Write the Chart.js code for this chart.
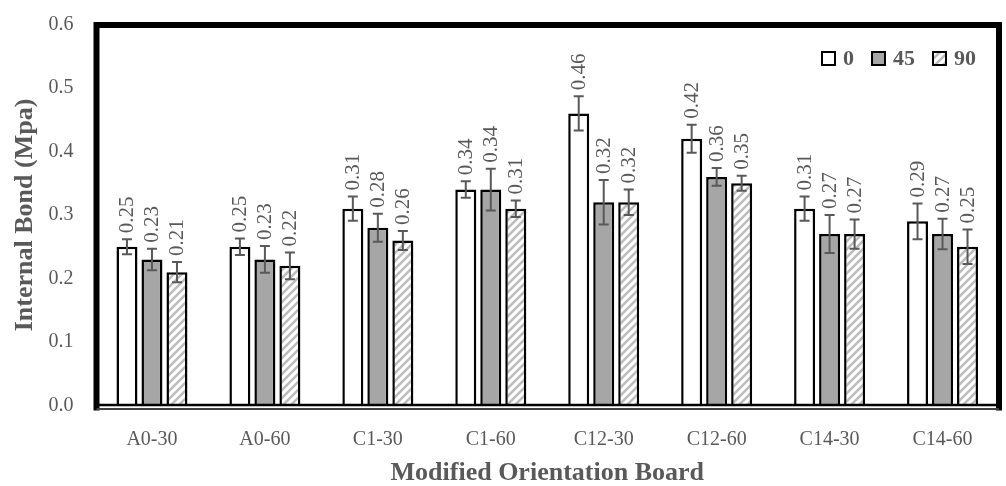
<!DOCTYPE html>
<html>
<head>
<meta charset="utf-8">
<script src="https://cdn.jsdelivr.net/npm/chart.js@4.4.1/dist/chart.umd.min.js"></script>
<style>
  html, body { margin: 0; padding: 0; background: #ffffff; }
  #wrap { width: 1006px; height: 486px; }
</style>
</head>
<body>
<div id="wrap"><canvas id="ib" width="1006" height="486"></canvas></div>
<script>
// Internal bond of modified orientation boards, by strand orientation (0, 45, 90 deg)
const boards = ['A0-30', 'A0-60', 'C1-30', 'C1-60', 'C12-30', 'C12-60', 'C14-30', 'C14-60'];
const orientations = ['0', '45', '90'];

const ib0  = [0.25, 0.25, 0.31, 0.34, 0.46, 0.42, 0.31, 0.29];
const ib45 = [0.23, 0.23, 0.28, 0.34, 0.32, 0.36, 0.27, 0.27];
const ib90 = [0.21, 0.22, 0.26, 0.31, 0.32, 0.35, 0.27, 0.25];

// standard deviations shown as error bars
const sd0  = [0.012, 0.013, 0.019, 0.013, 0.027, 0.022, 0.019, 0.028];
const sd45 = [0.017, 0.021, 0.022, 0.033, 0.035, 0.014, 0.030, 0.024];
const sd90 = [0.016, 0.021, 0.015, 0.013, 0.020, 0.012, 0.023, 0.027];

const yTicks = [0.0, 0.1, 0.2, 0.3, 0.4, 0.5, 0.6];

const TEXT = '#595959';
const SERIF = '"Liberation Serif", "Times New Roman", serif';

function hatch() {
  const c = document.createElement('canvas');
  c.width = 8; c.height = 8;
  const g = c.getContext('2d');
  g.fillStyle = '#ffffff';
  g.fillRect(0, 0, 8, 8);
  g.strokeStyle = '#bdbdbd';
  g.lineWidth = 2.6;
  g.lineCap = 'square';
  g.beginPath();
  g.moveTo(0, 8); g.lineTo(8, 0);
  g.moveTo(-1, 1); g.lineTo(1, -1);
  g.moveTo(7, 9); g.lineTo(9, 7);
  g.stroke();
  return g.createPattern(c, 'repeat');
}

const sdBySeries = [sd0, sd45, sd90];

const errorBarsAndLabels = {
  id: 'errorBarsAndLabels',
  afterDatasetsDraw(chart) {
    const ctx = chart.ctx;
    const y = chart.scales.y;
    chart.data.datasets.forEach((ds, di) => {
      const meta = chart.getDatasetMeta(di);
      const sd = sdBySeries[di];
      meta.data.forEach((bar, i) => {
        const v = ds.data[i];
        const top = y.getPixelForValue(v + sd[i]);
        const bot = y.getPixelForValue(v - sd[i]);
        const x = bar.x;
        ctx.save();
        ctx.strokeStyle = TEXT;
        ctx.lineWidth = 2;
        ctx.beginPath();
        ctx.moveTo(x, top); ctx.lineTo(x, bot);
        ctx.moveTo(x - 5, top); ctx.lineTo(x + 5, top);
        ctx.moveTo(x - 5, bot); ctx.lineTo(x + 5, bot);
        ctx.stroke();
        ctx.translate(x, top - 6);
        ctx.rotate(-Math.PI / 2);
        ctx.fillStyle = TEXT;
        ctx.font = '21px ' + SERIF;
        ctx.textAlign = 'left';
        ctx.textBaseline = 'middle';
        ctx.fillText(v.toFixed(2), 0, 1);
        ctx.restore();
      });
    });
  }
};

const plotFrame = {
  id: 'plotFrame',
  afterDraw(chart) {
    const ctx = chart.ctx;
    const a = chart.chartArea;
    const L = a.left + 1, R = a.right, T = a.top + 0.5, B = a.bottom;
    ctx.save();
    ctx.strokeStyle = '#000000';
    ctx.lineWidth = 6;
    ctx.lineJoin = 'miter';
    ctx.beginPath();
    ctx.moveTo(L, B + 5);
    ctx.lineTo(L, T);
    ctx.lineTo(R, T);
    ctx.lineTo(R, B + 5);
    ctx.stroke();
    ctx.lineWidth = 2.5;
    ctx.beginPath();
    ctx.moveTo(L, B - 0.5); ctx.lineTo(R, B - 0.5);
    ctx.stroke();
    ctx.strokeStyle = '#404040';
    ctx.lineWidth = 2;
    ctx.beginPath();
    ctx.moveTo(L, B + 3.5); ctx.lineTo(R, B + 3.5);
    ctx.stroke();
    ctx.restore();
  }
};

const insideLegend = {
  id: 'insideLegend',
  afterDraw(chart) {
    const ctx = chart.ctx;
    const a = chart.chartArea;
    const box = 15, gap = 7, space = 17;
    ctx.save();
    ctx.font = 'bold 22px ' + SERIF;
    const items = chart.data.datasets.map(ds => ({ds, w: ctx.measureText(ds.label).width}));
    const total = items.reduce((s, it) => s + box + gap + it.w, 0) + space * (items.length - 1);
    let x = a.right - 23 - total;
    const cy = 58.5;
    items.forEach(it => {
      ctx.fillStyle = it.ds.backgroundColor;
      ctx.fillRect(x, cy - box / 2, box, box);
      ctx.strokeStyle = '#000000';
      ctx.lineWidth = 2;
      ctx.strokeRect(x + 1, cy - box / 2 + 1, box - 2, box - 2);
      ctx.fillStyle = TEXT;
      ctx.textAlign = 'left';
      ctx.textBaseline = 'middle';
      ctx.fillText(it.ds.label, x + box + gap, cy + 1);
      x += box + gap + it.w + space;
    });
    ctx.restore();
  }
};

const barStyle = {
  borderColor: '#000000',
  borderWidth: 2.5,
  categoryPercentage: 0.664,
  barPercentage: 0.84
};

new Chart(document.getElementById('ib'), {
  type: 'bar',
  data: {
    labels: boards,
    datasets: [
      Object.assign({label: orientations[0], data: ib0,  backgroundColor: '#ffffff'}, barStyle),
      Object.assign({label: orientations[1], data: ib45, backgroundColor: '#a6a6a6'}, barStyle),
      Object.assign({label: orientations[2], data: ib90, backgroundColor: hatch()}, barStyle)
    ]
  },
  options: {
    responsive: false,
    animation: false,
    devicePixelRatio: 1,
    layout: { padding: { left: 0, top: 24.5, right: 7, bottom: 0 } },
    plugins: {
      legend: { display: false },
      tooltip: { enabled: false }
    },
    scales: {
      x: {
        grid: { display: false, drawTicks: false },
        border: { display: false },
        ticks: { color: TEXT, font: { family: SERIF, size: 20 }, padding: 22, maxRotation: 0 },
        title: {
          display: true, text: 'Modified Orientation Board', color: TEXT,
          font: { family: SERIF, size: 26, weight: 'bold', lineHeight: 1 }, padding: { top: 0, bottom: 0 }
        },
        afterFit(s) { s.height = 80.5; }
      },
      y: {
        min: 0, max: 0.6,
        afterBuildTicks(s) { s.ticks = yTicks.map(v => ({value: v})); },
        grid: { display: false, drawTicks: false },
        border: { display: false },
        ticks: { color: TEXT, font: { family: SERIF, size: 20 }, padding: 22, callback: v => Number(v).toFixed(1) },
        title: {
          display: true, text: 'Internal Bond (Mpa)', color: TEXT,
          font: { family: SERIF, size: 26, weight: 'bold', lineHeight: 1 }, padding: { top: 12, bottom: 0 }
        },
        afterFit(s) {
          s.width = 95.5;
          s.paddingTop = 0;
          s.paddingBottom = 0;
        }
      }
    }
  },
  plugins: [errorBarsAndLabels, plotFrame, insideLegend]
});
</script>
</body>
</html>
